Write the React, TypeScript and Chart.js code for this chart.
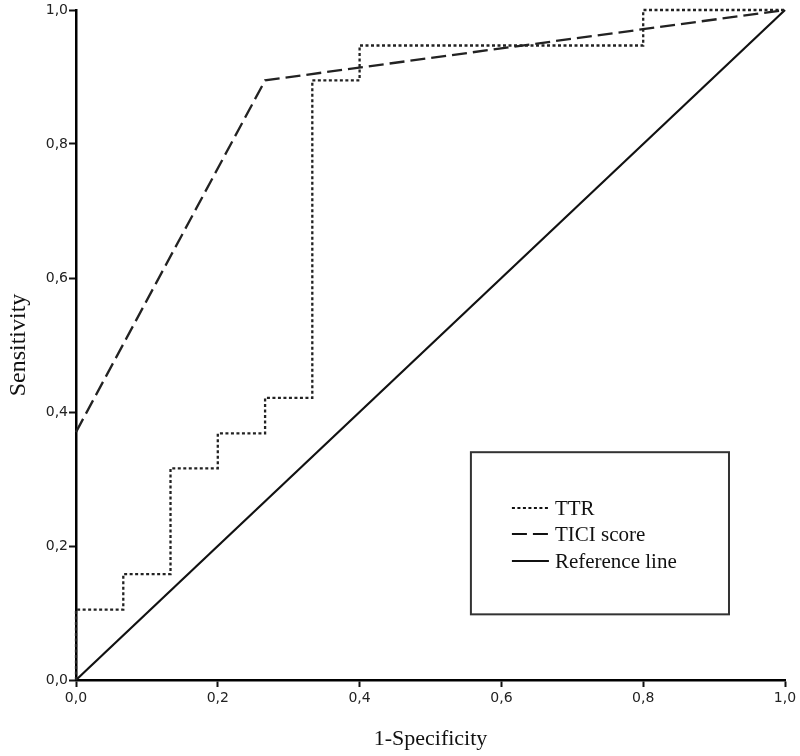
import React, { useEffect, useRef } from "react";
import { Chart, registerables } from "chart.js";

Chart.register(...registerables);

const ttrX = [0, 0, 0.0667, 0.0667, 0.1333, 0.1333, 0.2, 0.2, 0.2667, 0.2667, 0.3333, 0.3333, 0.4, 0.4, 0.8, 0.8, 1.0];
const ttrY = [0, 0.105, 0.105, 0.158, 0.158, 0.316, 0.316, 0.368, 0.368, 0.421, 0.421, 0.895, 0.895, 0.947, 0.947, 1.0, 1.0];
const ticiX = [0, 0.2667, 1.0];
const ticiY = [0.37, 0.895, 1.0];
const refX = [0, 1];
const refY = [0, 1];
const tickValues = [0, 0.2, 0.4, 0.6, 0.8, 1.0];
const seriesLabels = ["TTR", "TICI score", "Reference line"];

const toPoints = (xs: number[], ys: number[]) => xs.map((x, i) => ({ x, y: ys[i] }));

const fmt = (v: number) => Number(v).toFixed(1).replace(".", ",");

const legendBox = {
  id: "legendBox",
  afterDatasetsDraw(chart: any) {
    const { ctx, chartArea } = chart;
    const w = chartArea.right - chartArea.left;
    const h = chartArea.bottom - chartArea.top;
    const bx0 = chartArea.left + w * 0.557;
    const bx1 = chartArea.left + w * 0.921;
    const by0 = chartArea.top + h * 0.660;
    const by1 = chartArea.top + h * 0.902;
    ctx.save();
    ctx.strokeStyle = "#333";
    ctx.lineWidth = 2;
    ctx.strokeRect(bx0, by0, bx1 - bx0, by1 - by0);
    const rows = [508, 534, 561].map((y) => chartArea.top + (y - 10));
    const lx0 = bx0 + 41;
    const lx1 = bx0 + 78;
    ctx.font = "21px 'Liberation Serif', serif";
    ctx.fillStyle = "#111";
    ctx.textBaseline = "middle";
    chart.data.datasets.forEach((ds: any, i: number) => {
      ctx.beginPath();
      ctx.strokeStyle = "#111";
      ctx.lineWidth = 2;
      ctx.setLineDash(ds.borderDash || []);
      ctx.moveTo(lx0, rows[i]);
      ctx.lineTo(lx1, rows[i]);
      ctx.stroke();
      ctx.setLineDash([]);
      ctx.fillText(ds.label, lx1 + 6, rows[i] + 1);
    });
    ctx.restore();
  },
};

export default function App() {
  const ref = useRef<HTMLCanvasElement | null>(null);
  useEffect(() => {
    if (!ref.current) return;
    const axisCommon = (title: string, size: number, tickPad: number) => ({
      type: "linear" as const,
      min: 0,
      max: 1,
      afterBuildTicks: (s: any) => {
        s.ticks = tickValues.map((v) => ({ value: v }));
      },
      border: { display: true, color: "#000", width: 2.5 },
      grid: {
        drawOnChartArea: false,
        drawTicks: true,
        tickLength: 7,
        tickWidth: 2,
        tickColor: "#111",
        color: "#111",
      },
      ticks: {
        color: "#222",
        font: { family: "'DejaVu Sans', sans-serif", size: 14 },
        callback: (v: any) => fmt(v),
        padding: tickPad,
      },
      title: {
        display: true,
        text: title,
        color: "#111",
        font: { family: "'Liberation Serif', serif", size },
        padding: { top: 4, bottom: 4 },
      },
    });
    const chart = new Chart(ref.current, {
      type: "scatter",
      data: {
        datasets: [
          {
            label: seriesLabels[0],
            data: toPoints(ttrX, ttrY),
            showLine: true,
            borderColor: "#222",
            borderWidth: 2.3,
            borderDash: [3, 2.5],
            pointRadius: 0,
            clip: false as any,
          },
          {
            label: seriesLabels[1],
            data: toPoints(ticiX, ticiY),
            showLine: true,
            borderColor: "#222",
            borderWidth: 2.3,
            borderDash: [15, 6],
            pointRadius: 0,
            clip: false as any,
          },
          {
            label: seriesLabels[2],
            data: toPoints(refX, refY),
            showLine: true,
            borderColor: "#111",
            borderWidth: 2.2,
            pointRadius: 0,
            clip: false as any,
          },
        ],
      },
      options: {
        animation: false,
        responsive: false,
        maintainAspectRatio: false,
        layout: { padding: { top: 10, right: 15, left: 0, bottom: 0 } },
        plugins: { legend: { display: false }, tooltip: { enabled: false } },
        scales: {
          x: {
            ...axisCommon("1-Specificity", 22, 3),
            position: "bottom",
            afterFit: (s: any) => {
              s.height = 76;
            },
          },
          y: {
            ...axisCommon("Sensitivity", 24, 1),
            position: "left",
            afterFit: (s: any) => {
              s.width = 76;
            },
          },
        },
      },
      plugins: [legendBox],
    } as any);
    return () => chart.destroy();
  }, []);
  return (
    <div style={{ position: "fixed", left: 0, top: 0, width: 800, height: 756, background: "#fff" }}>
      <canvas ref={ref} width={800} height={756} style={{ display: "block" }} />
    </div>
  );
}
